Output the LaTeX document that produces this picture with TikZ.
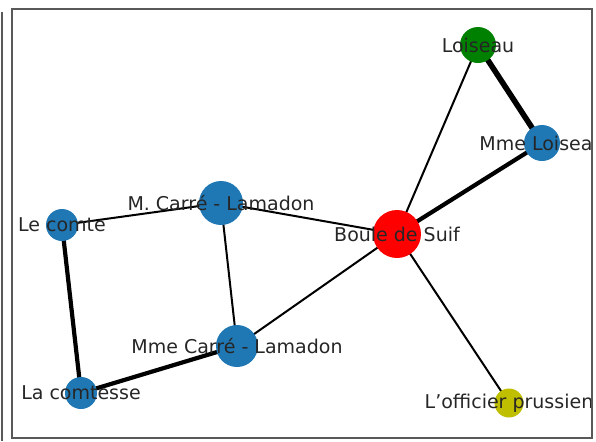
\documentclass[tikz,border=0pt]{standalone}
\usepackage{fontspec}
\setmainfont{DejaVu Sans}
\usetikzlibrary{backgrounds}

\begin{document}
\begin{tikzpicture}[x=0.5pt,y=-0.5pt]
\tikzset{vertex/.style={circle,inner sep=0pt,draw=none},
  lbl/.style={text=black!85,inner sep=0pt,font=\fontsize{9.5}{11}\selectfont},
  thin edge/.style={line width=1pt},
  heavy edge/.style={line width=2.1pt},
  frame/.style={draw=black!65,line width=0.7pt}}
\useasboundingbox (0,0) rectangle (596,441);

\begin{scope}
\clip (12,9) rectangle (592,438);
\node[vertex,fill={rgb,255:red,255;green,0;blue,0},minimum size=24pt] (bds) at (397,234) {};
\node[vertex,fill={rgb,255:red,31;green,119;blue,180},minimum size=22pt] (mcl) at (221,203) {};
\node[vertex,fill={rgb,255:red,31;green,119;blue,180},minimum size=21pt] (mmecl) at (237,346) {};
\node[vertex,fill={rgb,255:red,31;green,119;blue,180},minimum size=16pt] (comte) at (62,225) {};
\node[vertex,fill={rgb,255:red,31;green,119;blue,180},minimum size=16pt] (comtesse) at (81,393) {};
\node[vertex,fill={rgb,255:red,0;green,128;blue,0},minimum size=18pt] (loiseau) at (478,45) {};
\node[vertex,fill={rgb,255:red,31;green,119;blue,180},minimum size=18pt] (mmeloiseau) at (542,143) {};
\node[vertex,fill={rgb,255:red,191;green,191;blue,0},minimum size=14.5pt] (officier) at (509,403) {};

\begin{pgfonlayer}{background}
\draw[line width=2.8pt] (loiseau.center) -- (mmeloiseau.center);
\draw[thin edge] (loiseau.center) -- (bds.center);
\draw[heavy edge] (mmeloiseau.center) -- (bds.center);
\draw[thin edge] (bds.center) -- (mcl.center);
\draw[thin edge] (bds.center) -- (mmecl.center);
\draw[thin edge] (bds.center) -- (officier.center);
\draw[thin edge] (mcl.center) -- (comte.center);
\draw[thin edge] (mcl.center) -- (mmecl.center);
\draw[heavy edge] (comte.center) -- (comtesse.center);
\draw[heavy edge] (comtesse.center) -- (mmecl.center);
\end{pgfonlayer}

\node[lbl] at (bds) {Boule de Suif};
\node[lbl] at (mcl) {M. Carré - Lamadon};
\node[lbl] at (mmecl) {Mme Carré - Lamadon};
\node[lbl] at (comte) {Le comte};
\node[lbl] at (comtesse) {La comtesse};
\node[lbl] at (loiseau) {Loiseau};
\node[lbl] at (mmeloiseau) {Mme Loiseau};
\node[lbl] at (officier) {L’officier prussien};
\end{scope}

\draw[frame] (12,9) rectangle (592,438);
\draw[frame] (2,12) -- (2,441);
\end{tikzpicture}
\end{document}
